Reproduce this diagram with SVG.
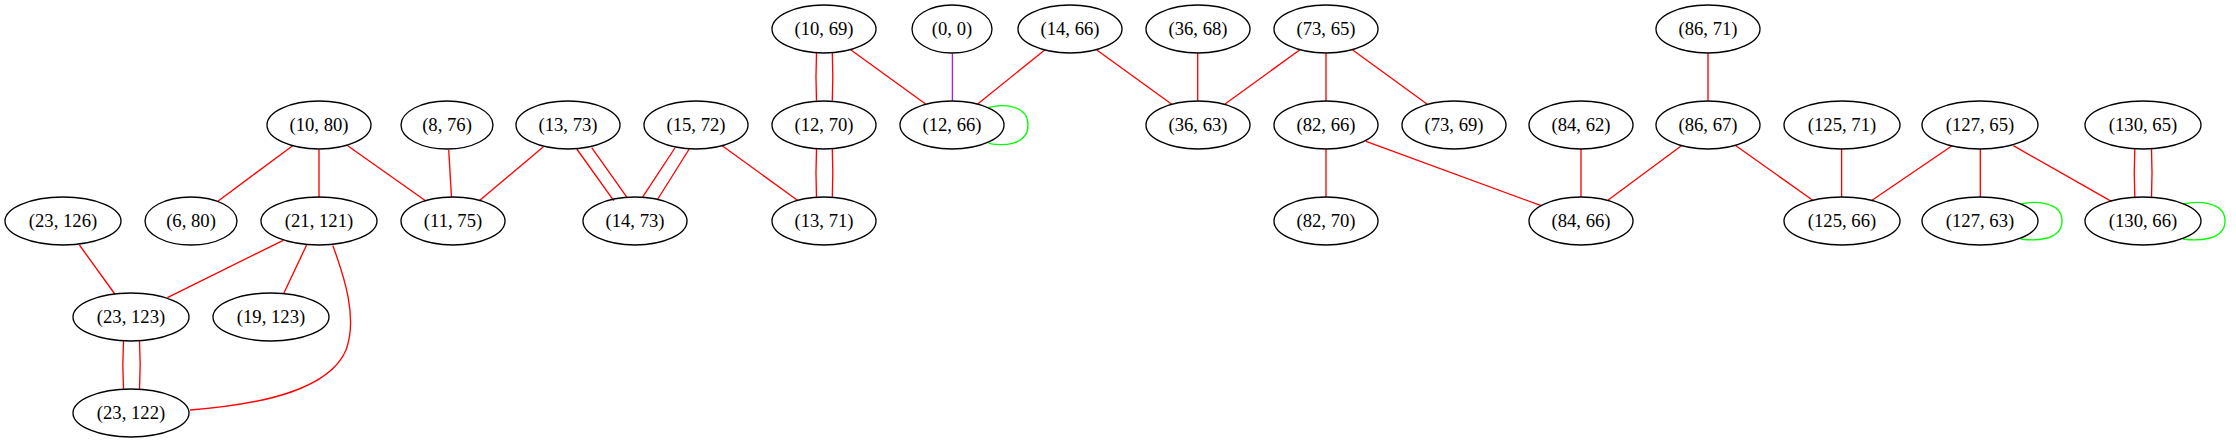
<svg xmlns="http://www.w3.org/2000/svg" width="2236" height="443" viewBox="0 0 2236 443">
<style>
.n ellipse{fill:none;stroke:#000;stroke-width:1.33}
.n text{font-family:"Liberation Serif","Times New Roman",serif;font-size:18.67px;text-anchor:middle;fill:#000}
.e path{fill:none;stroke-width:1.33}
.r{stroke:#ff0000}
.g{stroke:#00ff00}
.p{stroke:#a020f0}
</style>
<rect width="2236" height="443" fill="#fff"/>
<g id="edges" class="e">
<path class="r" d="M292.7,145.7L217.2,201.7"/>
<path class="r" d="M319,149.7L319,197.7"/>
<path class="r" d="M347.7,145.7L426.2,201.3"/>
<path class="r" d="M448.7,149.7L451.5,197.3"/>
<path class="r" d="M543.4,146.7L479.3,200.7"/>
<path class="r" d="M576.8,149L613.7,200.7"/>
<path class="r" d="M591.7,147.7L627,197.3"/>
<path class="r" d="M674.9,148L642.4,197.3"/>
<path class="r" d="M689.2,149L657.2,200"/>
<path class="r" d="M722.2,145.7L797.4,200.3"/>
<path class="r" d="M79.4,245L114.8,294"/>
<path class="r" d="M283.2,240.3L167.4,297.7"/>
<path class="r" d="M306.6,245L283.6,293.7"/>
<path class="r" d="M332.8,245.5C344,276 358,318 346,350C330,388 268,404 190,410"/>
<path class="r" d="M123.5,341C122.6,357 122.6,373 123.5,389"/>
<path class="r" d="M139.5,341C140.4,357 140.4,373 139.5,389"/>
<path class="r" d="M816.5,52.7C815.8,69 815.8,85 816.5,100.7"/>
<path class="r" d="M832.3,52.7C833,69 833,85 832.3,100.7"/>
<path class="r" d="M816.5,149C815.8,165 815.8,181 816.5,197.3"/>
<path class="r" d="M832.3,149C833,165 833,181 832.3,197.3"/>
<path class="r" d="M851,50L925.6,104"/>
<path class="p" d="M952.4,53.3L952.4,101"/>
<path class="r" d="M1044.7,50L977.7,104"/>
<path class="r" d="M1096.8,50L1171.4,104"/>
<path class="r" d="M1197.7,53.3L1197.7,100.7"/>
<path class="r" d="M1299.6,50L1225,104"/>
<path class="r" d="M1326,53L1326,101"/>
<path class="r" d="M1352.7,50L1427.3,104.3"/>
<path class="r" d="M1326,149L1326,197"/>
<path class="r" d="M1366,141.3L1541.2,205.7"/>
<path class="r" d="M1708,53.3L1708,100.7"/>
<path class="r" d="M1581,149L1581,197"/>
<path class="r" d="M1681.4,145.7L1608.2,200"/>
<path class="r" d="M1735.9,145.7L1813.4,200.7"/>
<path class="r" d="M1841.6,149L1841.6,197"/>
<path class="r" d="M1952.1,145.7L1871.3,200.7"/>
<path class="r" d="M1980.3,149L1980.3,197"/>
<path class="r" d="M2013.3,145.7L2111.4,201.3"/>
<path class="r" d="M2134.8,149C2134.1,165 2134.1,181 2134.8,197"/>
<path class="r" d="M2151.5,149C2152.2,165 2152.2,181 2151.5,197"/>
<path class="g" d="M988.7,107.3C1002,104 1028,104 1028,125C1028,146 1002,146 988.7,143.3"/>
<path class="g" d="M2020.5,204C2034,201 2062,201 2062,221C2062,241 2034,241 2020.5,239"/>
<path class="g" d="M2183,204C2197,201 2225,201 2225,221C2225,241 2197,241 2183,239"/>
</g>
<g id="n_10_80" class="n"><ellipse cx="319" cy="125" rx="52" ry="24"/><text x="319" y="131">(10, 80)</text></g>
<g id="n_8_76" class="n"><ellipse cx="447" cy="125" rx="46" ry="24"/><text x="447" y="131">(8, 76)</text></g>
<g id="n_13_73" class="n"><ellipse cx="568" cy="125" rx="52" ry="24"/><text x="568" y="131">(13, 73)</text></g>
<g id="n_15_72" class="n"><ellipse cx="696" cy="125" rx="52" ry="24"/><text x="696" y="131">(15, 72)</text></g>
<g id="n_23_126" class="n"><ellipse cx="63" cy="221" rx="58" ry="24"/><text x="63" y="227">(23, 126)</text></g>
<g id="n_6_80" class="n"><ellipse cx="191" cy="221" rx="46" ry="24"/><text x="191" y="227">(6, 80)</text></g>
<g id="n_21_121" class="n"><ellipse cx="319" cy="221" rx="58" ry="24"/><text x="319" y="227">(21, 121)</text></g>
<g id="n_11_75" class="n"><ellipse cx="453" cy="221" rx="52" ry="24"/><text x="453" y="227">(11, 75)</text></g>
<g id="n_14_73" class="n"><ellipse cx="635" cy="221" rx="52" ry="24"/><text x="635" y="227">(14, 73)</text></g>
<g id="n_23_123" class="n"><ellipse cx="131" cy="317" rx="58" ry="24"/><text x="131" y="323">(23, 123)</text></g>
<g id="n_19_123" class="n"><ellipse cx="271" cy="317" rx="58" ry="24"/><text x="271" y="323">(19, 123)</text></g>
<g id="n_23_122" class="n"><ellipse cx="131" cy="413" rx="58" ry="24"/><text x="131" y="419">(23, 122)</text></g>
<g id="n_10_69" class="n"><ellipse cx="824" cy="29" rx="52" ry="24"/><text x="824" y="35">(10, 69)</text></g>
<g id="n_0_0" class="n"><ellipse cx="952" cy="29" rx="40" ry="24"/><text x="952" y="35">(0, 0)</text></g>
<g id="n_14_66" class="n"><ellipse cx="1070" cy="29" rx="52" ry="24"/><text x="1070" y="35">(14, 66)</text></g>
<g id="n_36_68" class="n"><ellipse cx="1198" cy="29" rx="52" ry="24"/><text x="1198" y="35">(36, 68)</text></g>
<g id="n_73_65" class="n"><ellipse cx="1326" cy="29" rx="52" ry="24"/><text x="1326" y="35">(73, 65)</text></g>
<g id="n_12_70" class="n"><ellipse cx="824" cy="125" rx="52" ry="24"/><text x="824" y="131">(12, 70)</text></g>
<g id="n_12_66" class="n"><ellipse cx="952" cy="125" rx="52" ry="24"/><text x="952" y="131">(12, 66)</text></g>
<g id="n_36_63" class="n"><ellipse cx="1198" cy="125" rx="52" ry="24"/><text x="1198" y="131">(36, 63)</text></g>
<g id="n_82_66" class="n"><ellipse cx="1326" cy="125" rx="52" ry="24"/><text x="1326" y="131">(82, 66)</text></g>
<g id="n_73_69" class="n"><ellipse cx="1454" cy="125" rx="52" ry="24"/><text x="1454" y="131">(73, 69)</text></g>
<g id="n_13_71" class="n"><ellipse cx="824" cy="221" rx="52" ry="24"/><text x="824" y="227">(13, 71)</text></g>
<g id="n_82_70" class="n"><ellipse cx="1326" cy="221" rx="52" ry="24"/><text x="1326" y="227">(82, 70)</text></g>
<g id="n_86_71" class="n"><ellipse cx="1708" cy="29" rx="52" ry="24"/><text x="1708" y="35">(86, 71)</text></g>
<g id="n_84_62" class="n"><ellipse cx="1581" cy="125" rx="52" ry="24"/><text x="1581" y="131">(84, 62)</text></g>
<g id="n_86_67" class="n"><ellipse cx="1708" cy="125" rx="52" ry="24"/><text x="1708" y="131">(86, 67)</text></g>
<g id="n_125_71" class="n"><ellipse cx="1842" cy="125" rx="58" ry="24"/><text x="1842" y="131">(125, 71)</text></g>
<g id="n_127_65" class="n"><ellipse cx="1980" cy="125" rx="58" ry="24"/><text x="1980" y="131">(127, 65)</text></g>
<g id="n_130_65" class="n"><ellipse cx="2143" cy="125" rx="58" ry="24"/><text x="2143" y="131">(130, 65)</text></g>
<g id="n_84_66" class="n"><ellipse cx="1581" cy="221" rx="52" ry="24"/><text x="1581" y="227">(84, 66)</text></g>
<g id="n_125_66" class="n"><ellipse cx="1842" cy="221" rx="58" ry="24"/><text x="1842" y="227">(125, 66)</text></g>
<g id="n_127_63" class="n"><ellipse cx="1980" cy="221" rx="58" ry="24"/><text x="1980" y="227">(127, 63)</text></g>
<g id="n_130_66" class="n"><ellipse cx="2143" cy="221" rx="58" ry="24"/><text x="2143" y="227">(130, 66)</text></g>
</svg>
